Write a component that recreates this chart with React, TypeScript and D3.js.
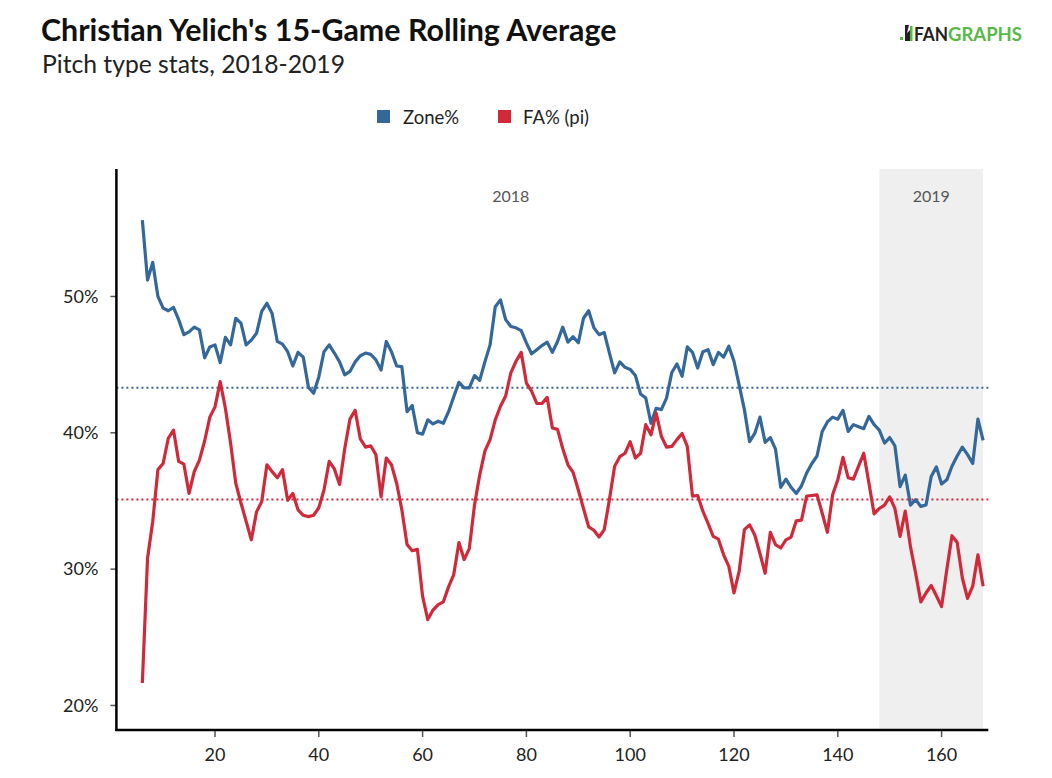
import React from 'react'
import * as d3 from 'd3'

const width = 1052
const height = 778
const blue = '#34679a'
const red = '#d0293a'

const firstGame = 6
const zonePct = [
  55.6, 51.2, 52.5, 50.0, 49.15, 48.95, 49.2, 48.3, 47.2, 47.4,
  47.75, 47.55, 45.5, 46.3, 46.45, 45.15, 47.0, 46.45, 48.4, 48.05,
  46.45, 46.8, 47.3, 48.9, 49.5, 48.75, 46.7, 46.5, 45.95, 44.9,
  45.9, 45.55, 43.35, 42.9, 44.1, 45.95, 46.45, 45.85, 45.2, 44.25,
  44.5, 45.2, 45.65, 45.85, 45.75, 45.35, 44.6, 46.7, 45.95, 44.9,
  44.85, 41.55, 42.0, 40.0, 39.9, 40.95, 40.65, 40.85, 40.7, 41.55,
  42.65, 43.7, 43.3, 43.3, 44.2, 43.85, 45.2, 46.45, 49.25, 49.75,
  48.3, 47.8, 47.7, 47.5, 46.6, 45.8, 46.1, 46.4, 46.65, 45.9,
  46.7, 47.75, 46.65, 47.05, 46.6, 48.4, 48.95, 47.7, 47.2, 47.35,
  45.85, 44.4, 45.2, 44.8, 44.65, 44.2, 42.85, 42.55, 40.7, 41.8,
  41.7, 42.55, 44.4, 45.05, 44.15, 46.3, 45.9, 44.75, 45.95, 46.1,
  45.0, 45.9, 45.55, 46.35, 45.25, 43.5, 41.7, 39.35, 39.95, 41.15,
  39.3, 39.65, 38.8, 36.0, 36.6, 36.0, 35.55, 36.1, 37.05, 37.75,
  38.3, 40.1, 40.8, 41.15, 41.0, 41.65, 40.1, 40.6, 40.45, 40.3,
  41.2, 40.6, 40.2, 39.25, 39.65, 39.05, 36.05, 36.9, 34.7, 35.1,
  34.6, 34.7, 36.8, 37.5, 36.25, 36.55, 37.55, 38.3, 38.95, 38.4,
  37.75, 41.0, 39.45,
]
const faPct = [
  21.65, 30.8, 33.5, 37.3, 37.75, 39.6, 40.2, 37.9, 37.7, 35.55,
  37.15, 38.0, 39.4, 41.15, 41.9, 43.75, 41.8, 39.25, 36.3, 34.85,
  33.5, 32.15, 34.2, 34.95, 37.65, 37.15, 36.7, 37.3, 35.05, 35.55,
  34.35, 33.95, 33.85, 33.95, 34.5, 35.8, 37.9, 37.35, 36.2, 38.85,
  41.0, 41.65, 39.55, 38.95, 39.05, 38.4, 35.3, 38.15, 37.65, 36.3,
  34.35, 31.8, 31.35, 31.45, 28.0, 26.3, 27.0, 27.4, 27.6, 28.7,
  29.6, 31.95, 30.7, 31.5, 34.7, 36.9, 38.65, 39.5, 40.95, 41.95,
  42.7, 44.4, 45.25, 45.9, 43.65, 43.05, 42.15, 42.15, 42.6, 40.35,
  40.25, 38.85, 37.65, 37.1, 35.8, 34.45, 33.1, 32.85, 32.35, 32.9,
  35.1, 37.55, 38.25, 38.5, 39.35, 38.15, 38.5, 40.6, 39.85, 41.45,
  39.75, 38.95, 39.0, 39.5, 39.95, 39.0, 35.35, 35.4, 34.25, 33.35,
  32.4, 32.2, 31.05, 30.2, 28.25, 29.85, 32.9, 33.25, 32.5, 31.15,
  29.7, 32.7, 31.8, 31.55, 32.15, 32.35, 33.55, 33.6, 35.35, 35.4,
  35.45, 34.1, 32.7, 35.45, 36.55, 38.2, 36.7, 36.6, 37.55, 38.5,
  36.3, 34.05, 34.45, 34.7, 35.3, 34.45, 32.4, 34.25, 31.65, 29.7,
  27.6, 28.25, 28.8, 28.05, 27.25, 29.95, 32.45, 31.95, 29.35, 27.85,
  28.75, 31.05, 28.75,
]
const zoneAvg = 43.3
const faAvg = 35.1
const seasons = [
  { label: '2018', start: 6, end: 148, shaded: false },
  { label: '2019', start: 148, end: 168, shaded: true },
]
const xTicks = [20, 40, 60, 80, 100, 120, 140, 160]
const yTicks = [20, 30, 40, 50]

const x = d3.scaleLinear().domain([1, 169]).range([116.4, 988.3])
const y = d3.scaleLinear().domain([18.2, 59.35]).range([730, 169])

const line = d3
  .line<number>()
  .x((d, i) => x(firstGame + i))
  .y(d => y(d))

const font = 'Lato, "Open Sans", sans-serif'

const App = () => {
  const [x0, x1] = x.range()
  const [y0, y1] = y.range()
  return (
    <svg
      width={width}
      height={height}
      style={{ position: 'absolute', left: 0, top: 0, background: '#fff' }}
      fontFamily={font}
    >
      {/* titles */}
      <text x={41} y={41} fontSize={30.4} fontWeight={700} fill="#111">
        Christian Yelich's 15-Game Rolling Average
      </text>
      <text x={42} y={73} fontSize={24.7} fill="#222">
        Pitch type stats, 2018-2019
      </text>

      {/* logo */}
      <g>
        <rect x={900} y={37} width={3} height={3} fill="#58b947" />
        <path d="M905 25 l4 0 l-2 8 l3 -3 l0 11 l-5 0 z" fill="#222" />
        <rect x={910} y={26} width={2.5} height={15} fill="#58b947" />
        <text x={914} y={41} fontSize={18} fontWeight={700} fill="#222" textLength={34} lengthAdjust="spacingAndGlyphs">
          FAN
        </text>
        <text x={948} y={41} fontSize={18} fontWeight={700} fill="#58b947" textLength={74} lengthAdjust="spacingAndGlyphs">
          GRAPHS
        </text>
      </g>

      {/* legend */}
      <rect x={377} y={110} width={13} height={13} fill={blue} />
      <text x={403} y={124} fontSize={18.5} fill="#222">Zone%</text>
      <rect x={498} y={110} width={13} height={13} fill={red} />
      <text x={523} y={124} fontSize={18.5} fill="#222">FA% (pi)</text>

      {/* season bands */}
      {seasons.filter(s => s.shaded).map(s => (
        <rect key={s.label} x={x(s.start)} y={y1} width={x(s.end) - x(s.start)} height={y0 - y1} fill="#efefef" />
      ))}
      {seasons.map(s => (
        <text key={s.label} x={x((s.start + s.end) / 2)} y={202} fontSize={16} fill="#555" textAnchor="middle">
          {s.label}
        </text>
      ))}

      {/* average lines */}
      <line x1={x0} x2={x1} y1={y(zoneAvg)} y2={y(zoneAvg)} stroke={blue} strokeWidth={2} strokeDasharray="2 3" />
      <line x1={x0} x2={x1} y1={y(faAvg)} y2={y(faAvg)} stroke={red} strokeWidth={2} strokeDasharray="2 3" />

      {/* series */}
      <path d={line(zonePct) ?? ''} fill="none" stroke={blue} strokeWidth={3.2} strokeLinejoin="round" />
      <path d={line(faPct) ?? ''} fill="none" stroke={red} strokeWidth={3.2} strokeLinejoin="round" />

      {/* axes */}
      {yTicks.map(t => (
        <g key={t}>
          <line x1={x0 - 6} x2={x0} y1={y(t)} y2={y(t)} stroke="#555" strokeWidth={1.5} />
          <text x={x0 - 18} y={y(t)} dy="0.35em" fontSize={18} fill="#222" textAnchor="end">
            {t}%
          </text>
        </g>
      ))}
      {xTicks.map(t => (
        <g key={t}>
          <line x1={x(t)} x2={x(t)} y1={y0} y2={y0 + 7} stroke="#555" strokeWidth={1.5} />
          <text x={x(t)} y={y0 + 31} fontSize={18} fill="#222" textAnchor="middle">
            {t}
          </text>
        </g>
      ))}
      <line x1={x0} x2={x0} y1={y1} y2={y0 + 1} stroke="#000" strokeWidth={2.5} />
      <line x1={x0 - 1} x2={x1} y1={y0} y2={y0} stroke="#000" strokeWidth={2.5} />
    </svg>
  )
}

export default App
